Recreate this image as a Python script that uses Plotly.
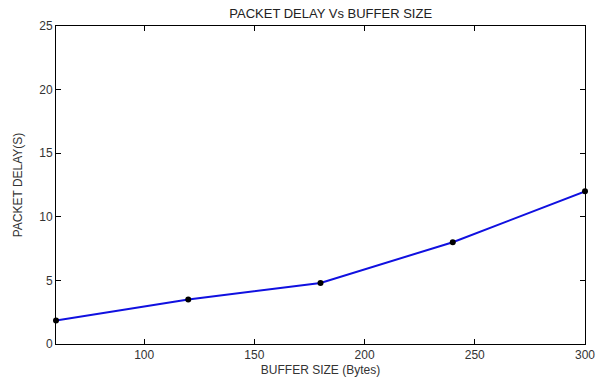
import plotly.graph_objects as go

buffer_size = [60, 120, 180, 240, 300]
packet_delay = [1.85, 3.5, 4.8, 8.0, 12.0]
x_ticks = [100, 150, 200, 250, 300]
y_ticks = [0, 5, 10, 15, 20, 25]

fig = go.Figure()
fig.add_trace(go.Scatter(
    x=buffer_size, y=packet_delay, mode="lines+markers",
    line=dict(color="#1010e0", width=2),
    marker=dict(color="black", size=6),
    cliponaxis=False,
))

axis_common = dict(
    showgrid=False, zeroline=False, showline=True, linecolor="black", linewidth=1,
    mirror="ticks", ticks="inside", ticklen=5, tickcolor="black", automargin=False,
    tickfont=dict(family="Liberation Sans, Arial", size=12, color="#333333"),
)
fig.update_layout(
    width=598, height=379,
    margin=dict(l=56, r=13, t=26, b=35),
    paper_bgcolor="white", plot_bgcolor="white",
    showlegend=False,
    title=dict(text="PACKET DELAY Vs BUFFER SIZE", x=0.553, xanchor="center",
               y=1 - 13 / 379, yanchor="middle",
               font=dict(family="Liberation Sans, Arial", size=13, color="#222222")),
    xaxis=dict(range=[60, 300], tickvals=x_ticks, **axis_common,
               title=dict(text="BUFFER SIZE (Bytes)", standoff=4,
                          font=dict(family="Liberation Sans, Arial", size=12, color="#333333"))),
    yaxis=dict(range=[0, 25], tickvals=y_ticks, **axis_common,
               title=dict(text="PACKET DELAY(S)", standoff=14,
                          font=dict(family="Liberation Sans, Arial", size=12, color="#333333"))),
)
fig.write_html("out.html")
